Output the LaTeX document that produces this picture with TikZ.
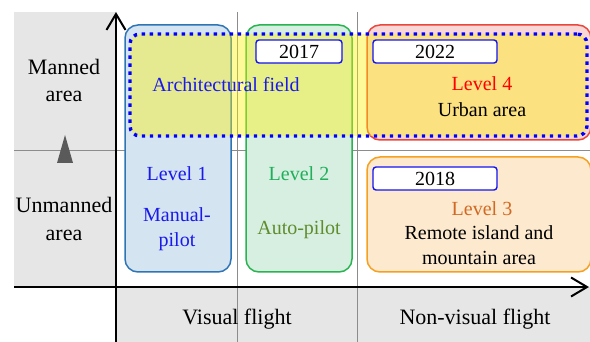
\documentclass[tikz,border=0pt]{standalone}
\usepackage{fontspec}
\setmainfont{Liberation Serif}
\usetikzlibrary{arrows.meta}
\definecolor{panelgray}{RGB}{230,230,230}
\definecolor{gridgray}{RGB}{140,140,140}
\definecolor{bluefill}{RGB}{213,228,241}
\definecolor{blueline}{RGB}{46,117,182}
\definecolor{greenfill}{RGB}{214,239,224}
\definecolor{greenline}{RGB}{40,180,80}
\definecolor{redfill}{RGB}{250,215,215}
\definecolor{redline}{RGB}{235,70,60}
\definecolor{orangefill}{RGB}{252,233,206}
\definecolor{orangeline}{RGB}{245,160,30}
\definecolor{txtblue}{RGB}{25,25,235}
\definecolor{txtgreen}{RGB}{30,175,90}
\definecolor{txtolive}{RGB}{95,140,45}
\definecolor{txtorange}{RGB}{210,105,35}
\definecolor{yearblue}{RGB}{20,20,240}
\definecolor{trigray}{RGB}{90,90,90}
\tikzset{
  big/.style={font=\fontsize{22}{27}\selectfont},
  small/.style={font=\fontsize{20}{25}\selectfont},
  lvlbox/.style={draw, line width=1.5pt, rounded corners=13pt, minimum width=#1},
  yearbox/.style={draw=yearblue, fill=white, line width=1.4pt, rounded corners=3pt,
     minimum width=#1, minimum height=23pt, inner sep=0pt, small},
  gridline/.style={draw=gridgray, line width=0.9pt},
  axis/.style={line width=2pt, -{Straight Barb[length=16pt,width=19pt,line width=2pt]}},
}
\begin{document}
\begin{tikzpicture}[x=1pt,y=-1pt]
\useasboundingbox (0,0) rectangle (590,342);
% panels
\fill[panelgray] (14,12) rectangle (116,287);
\fill[panelgray] (116,287) rectangle (590,342);
% grid lines
\path[gridline] (237,12) -- (237,342);
\path[gridline] (357,12) -- (357,342);
\path[gridline] (14,150) -- (590,150);
% triangle
\fill[trigray] (57,163) -- (65,135) -- (73,163) -- cycle;
% level boxes
\node[lvlbox=106pt, draw=blueline, fill=bluefill, minimum height=247pt] (b1) at (178,148.5) {};
\node[lvlbox=106pt, draw=greenline, fill=greenfill, minimum height=247pt] (b2) at (299,148.5) {};
\node[lvlbox=224pt, draw=redline, fill=redfill, minimum height=115pt] (b4) at (479,82.5) {};
\node[lvlbox=224pt, draw=orangeline, fill=orangefill, minimum height=115pt] (b3) at (479,214.5) {};
% architectural field overlay
\node[draw=blue, line width=3.4pt, dash pattern=on 3.4pt off 4.6pt, fill=yellow, fill opacity=0.4,
  draw opacity=1, rounded corners=10pt, minimum width=457pt, minimum height=102pt] (arch) at (358.5,85) {};
% year boxes
\node[yearbox=86pt] (y17) at (299,51.5) {2017};
\node[yearbox=124pt] (y22) at (435,51.5) {2022};
\node[yearbox=124pt] (y18) at (435,178.5) {2018};
% texts
\node[big, anchor=base] (man1) at (64,75) {Manned};
\node[big, anchor=base] (man2) at (64,102) {area};
\node[big, anchor=base] (unm1) at (64,213) {Unmanned};
\node[big, anchor=base] (unm2) at (64,241) {area};
\node[small, anchor=base, text=txtblue] (arch t) at (226,92) {Architectural field};
\node[small, anchor=base, text=red] (l4) at (482,91) {Level 4};
\node[small, anchor=base] (urban) at (482,117) {Urban area};
\node[small, anchor=base, text=txtblue] (l1) at (177,181) {Level 1};
\node[small, anchor=base, text=txtblue] (mp1) at (177,222) {Manual-};
\node[small, anchor=base, text=txtblue] (mp2) at (177,247) {pilot};
\node[small, anchor=base, text=txtgreen] (l2) at (299,181) {Level 2};
\node[small, anchor=base, text=txtolive] (ap) at (299,235) {Auto-pilot};
\node[small, anchor=base, text=txtorange] (l3) at (482,216) {Level 3};
\node[small, anchor=base] (rem1) at (479,240) {Remote island and};
\node[small, anchor=base] (rem2) at (479,265) {mountain area};
\node[big, anchor=base] (vis) at (237,325) {Visual flight};
\node[big, anchor=base] (nvis) at (475,325) {Non-visual flight};
% axes
\coordinate (ybot) at (116,342);
\coordinate (ytop) at (116,12);
\coordinate (xleft) at (14,287);
\coordinate (xright) at (589,287);
\draw[axis] (ybot) -- (ytop);
\draw[axis] (xleft) -- (xright);
\end{tikzpicture}
\end{document}
